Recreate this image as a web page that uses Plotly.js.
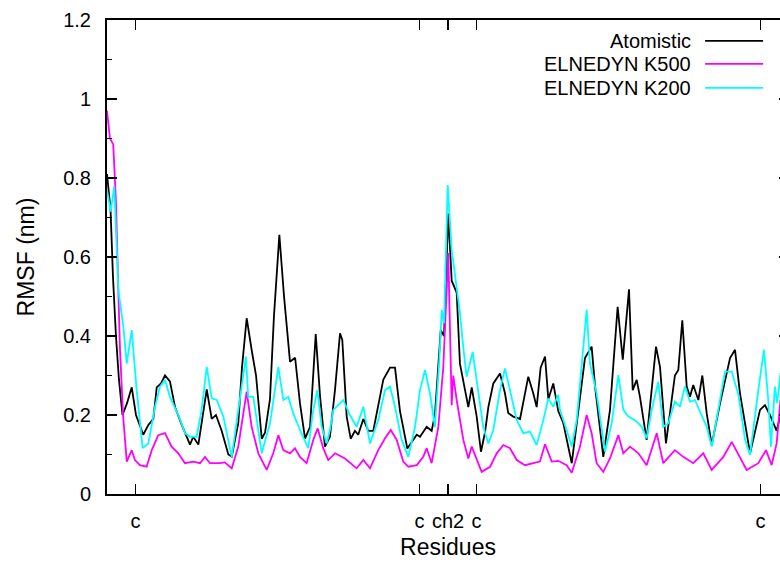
<!DOCTYPE html>
<html>
<head>
<meta charset="utf-8">
<script src="https://cdn.plot.ly/plotly-3.0.1.min.js"></script>
<style>
html,body{margin:0;padding:0;overflow:hidden;background:#fff;}
#chart{width:800px;height:565px;}
</style>
</head>
<body>
<div id="chart"></div>
<script>
// Residue index (two chains of 240 residues) and RMSF values (nm)
const atomX = [0,2.5,4.2,6.3,8.4,10.9,14.1,17.4,20.4,25.5,29.1,32.6,35.0,38.0,40.8,44.3,47.9,52.6,58.4,60.7,64.3,70.2,73.7,76.7,80.7,85.4,87.8,92.4,95.0,98.3,101.8,104.9,108.9,111.2,114.7,117.5,121.3,124.6,128.8,132.4,135.8,139.4,142.9,146.9,149.9,153.4,156.9,160.5,164.0,165.6,168.7,171.5,174.5,176.8,180.4,183.9,187.4,194.5,199.2,202.7,206.2,211.4,218.0,220.3,225.0,228.5,230.8,234.9,237.2,240.2,242.6,246.1,248.4,252.0,254.3,256.7,260.2,263.2,266.0,268.4,271.9,276.6,280.1,282.4,285.9,290.7,296.5,300.0,302.4,305.2,308.3,310.6,314.1,317.6,321.1,327.1,336.4,341.1,343.5,349.3,354.0,359.4,363.0,367.4,370.0,372.8,375.1,379.8,386.4,389.2,393.4,399.7,402.1,404.9,408.0,410.3,412.6,416.2,419.0,422.1,425.6,431.5,438.5,442.0,445.5,452.6,456.1,459.6,463.1,466.6,471.3,474.0,478.0];
const atomY = [0.81,0.72,0.55,0.40,0.29,0.20,0.23,0.27,0.20,0.15,0.175,0.19,0.27,0.28,0.30,0.285,0.22,0.175,0.125,0.145,0.125,0.265,0.19,0.20,0.16,0.10,0.095,0.18,0.32,0.445,0.365,0.30,0.14,0.155,0.24,0.45,0.656,0.50,0.335,0.345,0.23,0.14,0.17,0.405,0.25,0.12,0.145,0.265,0.407,0.39,0.196,0.14,0.16,0.15,0.19,0.16,0.16,0.29,0.32,0.32,0.21,0.115,0.15,0.145,0.17,0.16,0.20,0.415,0.40,0.71,0.54,0.51,0.33,0.265,0.22,0.27,0.196,0.107,0.155,0.22,0.28,0.305,0.255,0.205,0.196,0.19,0.297,0.255,0.22,0.32,0.348,0.24,0.28,0.21,0.18,0.078,0.344,0.373,0.272,0.094,0.213,0.474,0.34,0.518,0.263,0.289,0.246,0.137,0.373,0.322,0.128,0.30,0.314,0.44,0.272,0.246,0.276,0.238,0.30,0.204,0.124,0.23,0.344,0.365,0.255,0.103,0.154,0.213,0.225,0.20,0.16,0.20,0.17];

const k500X = [0,2.1,4.4,6.3,7.7,9.1,11.3,13.9,17.4,19.7,23.2,27.9,31.5,36.1,40.8,45.5,50.2,54.9,60.7,65.5,69.0,72.5,79.5,83.0,87.8,92.4,98.3,101.8,106.5,112.4,117.0,120.6,124.1,128.8,132.3,135.8,140.5,145.2,148.3,152.2,155.7,160.5,167.5,175.7,180.4,185.1,190.9,195.7,199.7,203.9,208.5,212.1,218.0,222.6,225.0,228.5,233.2,236.7,240.2,242.6,243.7,246.1,250.8,254.3,256.7,260.2,263.7,269.6,274.3,279.0,283.6,288.4,294.2,300.0,304.7,308.3,313.0,317.6,323.5,327.1,332.9,337.6,341.1,344.6,349.3,354.0,359.9,363.4,368.1,374.0,379.8,386.9,391.5,399.7,405.6,412.6,419.7,425.6,433.8,439.7,445.5,450.2,458.4,463.8,467.8,471.3,474.0,478.0];
const k500Y = [0.97,0.90,0.885,0.74,0.55,0.37,0.20,0.082,0.111,0.086,0.073,0.069,0.111,0.149,0.154,0.12,0.103,0.078,0.082,0.078,0.094,0.078,0.078,0.08,0.065,0.12,0.259,0.17,0.103,0.061,0.103,0.149,0.111,0.103,0.116,0.094,0.078,0.137,0.166,0.116,0.086,0.103,0.09,0.065,0.086,0.065,0.111,0.141,0.162,0.137,0.082,0.069,0.073,0.094,0.116,0.078,0.17,0.322,0.61,0.225,0.30,0.238,0.137,0.09,0.12,0.086,0.056,0.069,0.103,0.124,0.116,0.086,0.073,0.078,0.082,0.126,0.082,0.084,0.073,0.054,0.12,0.20,0.154,0.078,0.056,0.09,0.149,0.103,0.12,0.103,0.073,0.154,0.078,0.111,0.094,0.078,0.103,0.061,0.094,0.132,0.094,0.061,0.078,0.111,0.073,0.128,0.238,0.26];

const k200X = [0,2.6,5.1,8.0,11.5,13.9,17.4,20.9,25.1,29.1,33.8,37.3,40.8,44.3,50.2,54.9,58.4,63.1,66.6,70.2,73.7,77.2,81.9,87.8,92.4,97.8,99.4,103.0,108.9,114.7,120.6,124.1,127.6,131.1,135.8,141.7,144.8,148.0,151.1,154.6,156.9,159.3,166.3,171.0,175.7,180.4,185.1,190.9,195.7,199.2,202.7,207.4,212.1,216.8,220.3,223.8,227.3,230.8,233.9,235.6,237.2,239.8,242.6,246.1,248.4,250.5,253.1,257.4,261.3,264.8,268.4,271.9,276.6,280.1,283.6,288.4,293.0,297.7,302.4,307.1,310.6,314.1,317.6,318.8,323.5,327.1,330.6,337.6,339.9,344.6,350.5,355.2,359.9,363.4,367.0,371.6,376.4,379.8,383.4,388.0,391.5,395.1,399.7,403.3,406.8,410.3,413.8,418.5,422.1,425.6,430.3,435.0,439.7,444.4,449.1,452.6,458.4,462.4,465.4,467.3,470.1,471.7,474.0,478.0];
const k200Y = [0.77,0.715,0.778,0.516,0.424,0.33,0.415,0.263,0.116,0.128,0.221,0.272,0.289,0.246,0.20,0.154,0.145,0.145,0.213,0.322,0.242,0.238,0.196,0.094,0.213,0.348,0.246,0.246,0.103,0.179,0.322,0.238,0.246,0.204,0.162,0.116,0.204,0.263,0.17,0.128,0.162,0.213,0.238,0.20,0.17,0.221,0.128,0.187,0.263,0.272,0.221,0.137,0.094,0.17,0.263,0.314,0.255,0.17,0.339,0.466,0.432,0.782,0.618,0.516,0.46,0.38,0.297,0.36,0.255,0.17,0.128,0.162,0.263,0.318,0.263,0.187,0.154,0.158,0.124,0.187,0.242,0.221,0.251,0.213,0.162,0.12,0.187,0.466,0.331,0.255,0.107,0.179,0.301,0.213,0.196,0.187,0.17,0.141,0.213,0.284,0.17,0.179,0.234,0.221,0.272,0.234,0.238,0.20,0.17,0.12,0.213,0.31,0.31,0.251,0.137,0.099,0.263,0.365,0.238,0.12,0.272,0.23,0.306,0.28];

const tickVals = [20, 220, 240, 260, 460];
const tickText = ['c', 'c', 'ch2', 'c', 'c'];
const seriesNames = ['Atomistic', 'ELNEDYN K500', 'ELNEDYN K200'];
const seriesColors = ['#000000', '#ff00ff', '#00ffff'];

const xs = [atomX, k500X, k200X];
const ys = [atomY, k500Y, k200Y];

const traces = xs.map((x, i) => ({
  type: 'scatter', mode: 'lines', x: x, y: ys[i], name: seriesNames[i],
  line: {color: seriesColors[i], width: 1.8}, showlegend: false, hoverinfo: 'skip'
}));

// manual legend (text right-aligned, sample line to its right)
const legY = [0.956, 0.9075, 0.857];
const annotations = seriesNames.map((n, i) => ({
  xref: 'paper', yref: 'paper', x: 0.859, y: legY[i], xanchor: 'right', yanchor: 'middle',
  text: n, showarrow: false, font: {family: 'Liberation Sans, Arial, sans-serif', size: 20, color: '#000'}
}));
const shapes = seriesNames.map((n, i) => ({
  type: 'line', xref: 'paper', yref: 'paper', x0: 0.877, x1: 0.962, y0: legY[i], y1: legY[i],
  line: {color: seriesColors[i], width: 1.8}
}));

const font = {family: 'Liberation Sans, Arial, sans-serif', color: '#000'};
const layout = {
  width: 800, height: 565,
  margin: {l: 107, r: 11, t: 20, b: 71},
  paper_bgcolor: '#fff', plot_bgcolor: '#fff',
  font: Object.assign({size: 20}, font),
  xaxis: {
    range: [0, 480], showgrid: false, zeroline: false,
    showline: true, linecolor: '#000', linewidth: 2, mirror: 'ticks',
    ticks: 'inside', ticklen: 10, tickwidth: 1.5, tickcolor: '#000',
    tickmode: 'array', tickvals: tickVals, ticktext: tickText,
    tickfont: Object.assign({size: 20}, font), ticklabelstandoff: 8,
    title: {text: 'Residues', font: Object.assign({size: 23}, font), standoff: 8}
  },
  yaxis: {
    range: [0, 1.2], showgrid: false, zeroline: false,
    showline: true, linecolor: '#000', linewidth: 2, mirror: 'ticks',
    ticks: 'inside', ticklen: 10, tickwidth: 1.5, tickcolor: '#000',
    tickmode: 'linear', tick0: 0, dtick: 0.2,
    minor: {ticks: 'inside', dtick: 0.1, ticklen: 5, tickwidth: 1.5, tickcolor: '#000', showgrid: false},
    tickfont: Object.assign({size: 20}, font), ticklabelstandoff: 10,
    title: {text: 'RMSF (nm)', font: Object.assign({size: 23}, font), standoff: 22}
  },
  annotations: annotations, shapes: shapes
};

Plotly.newPlot('chart', traces, layout, {displayModeBar: false, staticPlot: true});
</script>
</body>
</html>
